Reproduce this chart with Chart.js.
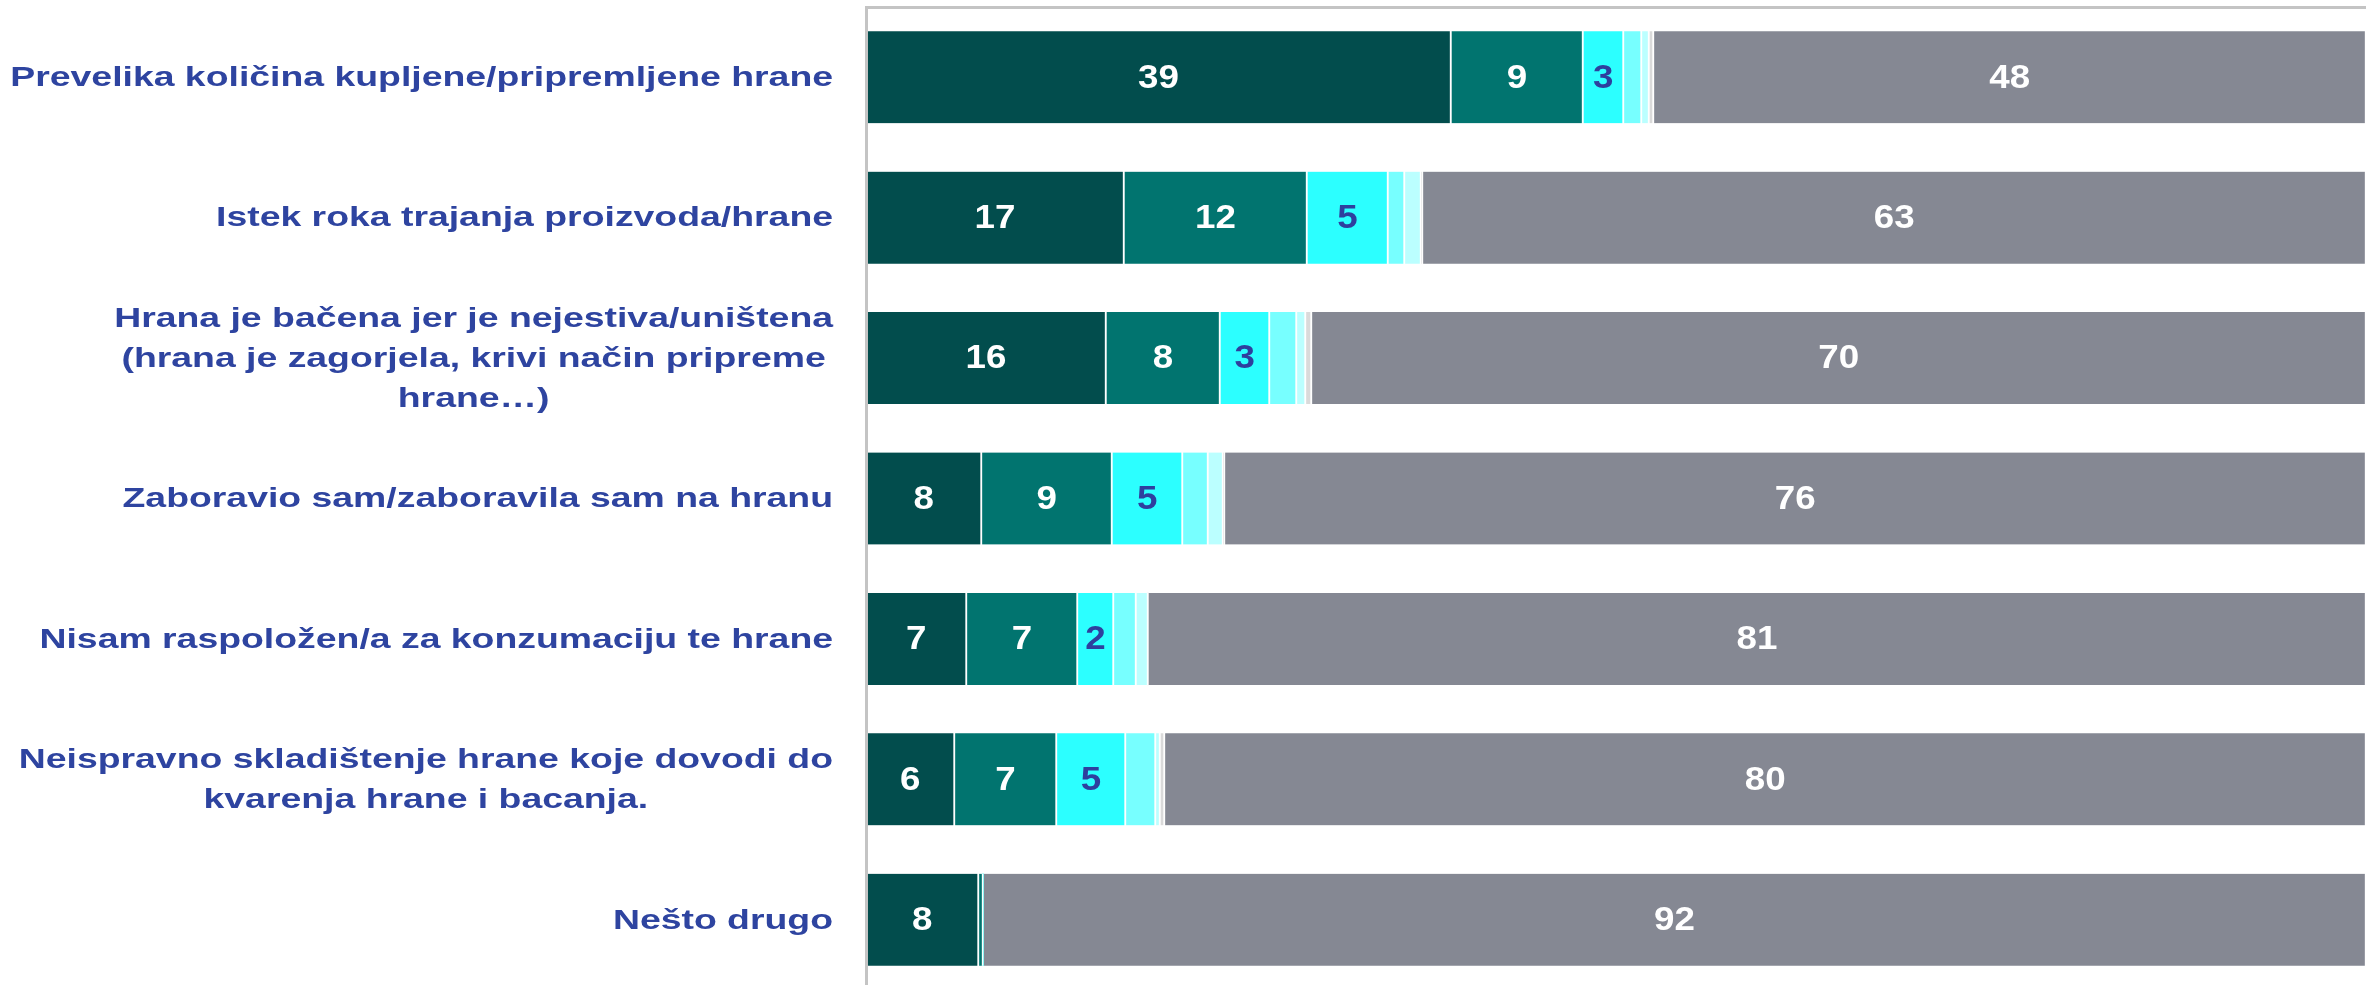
<!DOCTYPE html>
<html><head><meta charset="utf-8">
<script src="https://cdn.jsdelivr.net/npm/chart.js@4.4.1/dist/chart.umd.min.js"></script>
<style>html,body{margin:0;padding:0;overflow:hidden;background:#fff}#wrap{width:2366px;height:990px;position:relative}</style>
</head><body><div id="wrap"><canvas id="c" width="2366" height="990"></canvas></div>
<script>
const categories = [
  ["Prevelika količina kupljene/pripremljene hrane"],
  ["Istek roka trajanja proizvoda/hrane"],
  ["Hrana je bačena jer je nejestiva/uništena", "(hrana je zagorjela, krivi način pripreme", "hrane…)"],
  ["Zaboravio sam/zaboravila sam na hranu"],
  ["Nisam raspoložen/a za konzumaciju te hrane"],
  ["Neispravno skladištenje hrane koje dovodi do", "kvarenja hrane i bacanja."],
  ["Nešto drugo"]
];
const series1 = [39.0, 17.2, 16.0, 7.7, 6.7, 5.9, 7.5];
const series2 = [8.8, 12.2, 7.6, 8.7, 7.4, 6.8, 0.3];
const series3 = [2.7, 5.4, 3.3, 4.7, 2.4, 4.6, 0];
const series4 = [1.2, 1.1, 1.8, 1.7, 1.5, 2.0, 0];
const series5 = [0.5, 1.1, 0.6, 1.0, 0.8, 0.3, 0];
const series6 = [0.3, 0.1, 0.4, 0.1, 0, 0.3, 0];
const series7 = [47.5, 62.9, 70.3, 76.1, 81.2, 80.1, 92.2];

const seriesValues = [series1, series2, series3, series4, series5, series6, series7];
const seriesColors = ['#024D4D', '#01746F', '#2CFFFF', '#77FFFF', '#BBFFFF', '#DADADA', '#858893'];
const labelColors = ['#FFFFFF', '#FFFFFF', '#2E3F9E', null, null, null, '#FFFFFF'];
const labelFont = 'bold 34px "Liberation Sans", Arial, sans-serif';
const labelStretch = 1.08;
const catFont = 'bold 28px "Liberation Sans", Arial, sans-serif';
const catStretch = 1.335;
const catColor = '#2E44A0';

const segLabels = {
  id: 'segLabels',
  afterDatasetsDraw(chart) {
    const ctx = chart.ctx;
    ctx.save();
    ctx.font = labelFont;
    ctx.textAlign = 'center';
    ctx.textBaseline = 'middle';
    chart.data.datasets.forEach((ds, di) => {
      if (!labelColors[di]) return;
      const meta = chart.getDatasetMeta(di);
      meta.data.forEach((bar, i) => {
        const v = ds.data[i];
        if (v < 1) return;
        const p = bar.getProps(['x', 'y', 'base'], true);
        ctx.fillStyle = labelColors[di];
        ctx.save();
        ctx.translate((p.x + p.base) / 2, p.y + 1);
        ctx.scale(labelStretch, 1);
        ctx.fillText(String(Math.round(v)), 0, 0);
        ctx.restore();
      });
    });
    ctx.restore();
  }
};

const catLabels = {
  id: 'catLabels',
  afterDraw(chart) {
    const ctx = chart.ctx;
    const ys = chart.scales.y;
    ctx.save();
    ctx.font = catFont;
    ctx.fillStyle = catColor;
    ctx.textAlign = 'center';
    ctx.textBaseline = 'middle';
    const right = ys.right - 33;
    const lh = 40;
    categories.forEach((lines, i) => {
      const w = Math.max(...lines.map(l => ctx.measureText(l).width)) * catStretch;
      const cx = right - w / 2;
      const cy = ys.getPixelForValue(i);
      lines.forEach((l, k) => {
        ctx.save();
        ctx.translate(cx, cy + (k - (lines.length - 1) / 2) * lh + 1);
        ctx.scale(catStretch, 1);
        ctx.fillText(l, 0, 0);
        ctx.restore();
      });
    });
    ctx.restore();
  }
};

new Chart(document.getElementById('c'), {
  type: 'bar',
  data: {
    labels: categories.map(l => l.join(' ')),
    datasets: seriesValues.map((vals, i) => ({
      data: vals,
      backgroundColor: seriesColors[i],
      borderColor: '#FFFFFF',
      borderWidth: {top: 0, bottom: 0, left: 1, right: 1.5},
      borderSkipped: false,
      barThickness: 92
    }))
  },
  options: {
    indexAxis: 'y',
    responsive: false,
    animation: false,
    devicePixelRatio: 1,
    layout: {padding: {top: 7, left: 0, right: 0, bottom: 0}},
    plugins: {legend: {display: false}, tooltip: {enabled: false}, title: {display: false}},
    scales: {
      x: {
        type: 'linear', stacked: true, min: 0, max: 100, position: 'top',
        ticks: {display: false},
        grid: {display: false, drawTicks: false, tickLength: 0},
        border: {display: true, color: '#C4C4C4', width: 3},
        afterFit: s => { s.height = 0; }
      },
      y: {
        stacked: true,
        ticks: {display: false},
        grid: {display: false, drawTicks: false, tickLength: 0},
        border: {display: true, color: '#C4C4C4', width: 3, z: 1},
        afterFit: s => { s.width = 866; }
      }
    }
  },
  plugins: [segLabels, catLabels]
});
</script>
</body></html>
